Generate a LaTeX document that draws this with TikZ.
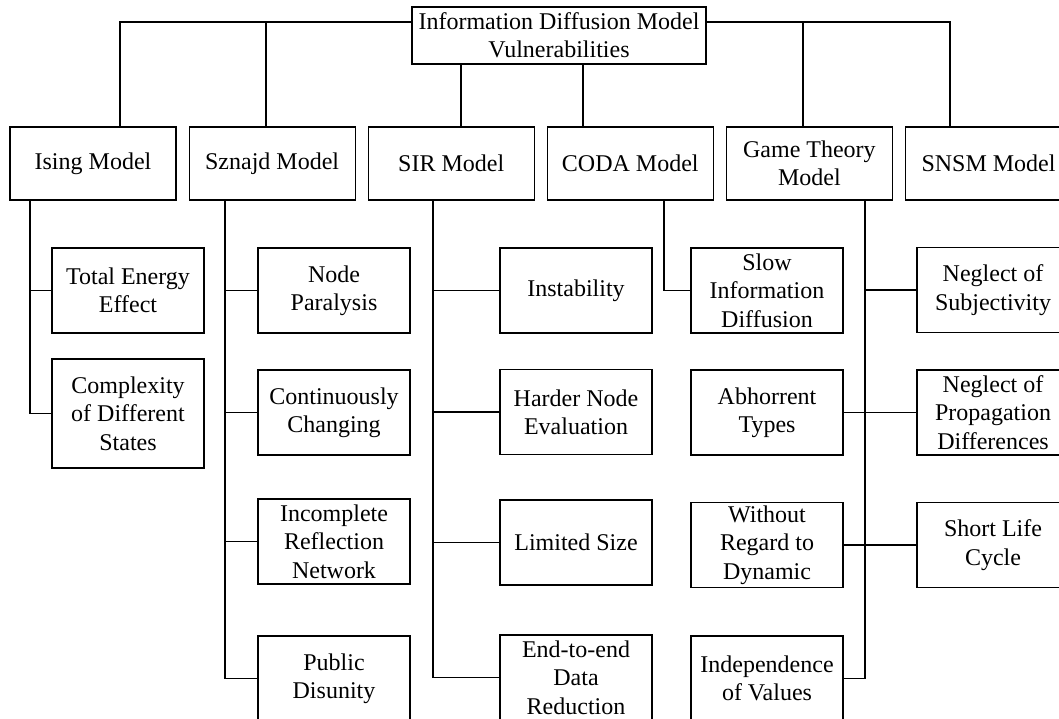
\documentclass[tikz,border=0pt]{standalone}
\usepackage{fontspec}
\setmainfont{Liberation Serif}
\usetikzlibrary{positioning,calc}

\begin{document}
\begin{tikzpicture}[
    x=1pt, y=-1pt,
    every node/.style={font=\fontsize{24}{28.3}\selectfont, align=center},
    box/.style={draw, line width=1.1pt, inner sep=2pt},
    rootbox/.style={box, minimum width=294pt, minimum height=57pt},
    modelbox/.style={box, minimum width=166pt, minimum height=73pt},
    issuebox/.style={box, minimum width=152pt, minimum height=85pt},
    link/.style={line width=1.1pt}
]
\clip (0,0) rectangle (1059,719);

% Root
\node[rootbox] (root) at (559,35.5) {Information Diffusion Model\\Vulnerabilities};

% Models
\node[modelbox] (ising) at (93,163.5) {Ising Model};
\node[modelbox, right=12pt of ising] (sznajd) {Sznajd Model};
\node[modelbox, right=12pt of sznajd] (sir) {SIR Model};
\node[modelbox, right=12pt of sir] (coda) {CODA Model};
\node[modelbox, right=12pt of coda] (game) {Game Theory\\Model};
\node[modelbox, right=12pt of game] (snsm) {SNSM Model};

% Vulnerabilities
\node[issuebox] (energy) at (128,290.5) {Total Energy\\Effect};
\node[issuebox, minimum height=109pt] (complex) at (128,413.5) {Complexity\\of Different\\States};

\node[issuebox] (paralysis) at (334,290.5) {Node\\Paralysis};
\node[issuebox] (changing) at (334,412.5) {Continuously\\Changing};
\node[issuebox] (incomplete) at (334,541.5) {Incomplete\\Reflection\\Network};
\node[issuebox] (disunity) at (334,678.5) {Public\\Disunity};

\node[issuebox] (instab) at (576,290.5) {Instability};
\node[issuebox] (harder) at (576,412) {Harder Node\\Evaluation};
\node[issuebox] (limited) at (576,542.5) {Limited Size};
\node[issuebox] (reduction) at (576,677.5) {End-to-end\\Data\\Reduction};

\node[issuebox] (slowinfo) at (767,290.5) {Slow\\Information\\Diffusion};
\node[issuebox] (abhor) at (767,412.5) {Abhorrent\\Types};
\node[issuebox] (without) at (767,545) {Without\\Regard to\\Dynamic};
\node[issuebox] (indep) at (767,678.5) {Independence\\of Values};

\node[issuebox] (subj) at (993,290) {Neglect of\\Subjectivity};
\node[issuebox] (propag) at (993,412.5) {Neglect of\\Propagation\\Differences};
\node[issuebox] (shortlife) at (993,545) {Short Life\\Cycle};

% Root to models
\coordinate (bus) at (0,22);
\coordinate (isingD) at (120,0);
\coordinate (sznajdD) at (266,0);
\coordinate (sirD) at (461,0);
\coordinate (codaD) at (583,0);
\coordinate (gameD) at (803,0);
\coordinate (snsmD) at (950,0);

\draw[link] (root.west |- bus) -| (ising.north -| isingD);
\draw[link] (sznajdD |- bus) -- (sznajd.north -| sznajdD);
\draw[link] (root.east |- bus) -| (snsm.north -| snsmD);
\draw[link] (gameD |- bus) -- (game.north -| gameD);
\draw[link] (root.south -| sirD) -- (sir.north -| sirD);
\draw[link] (root.south -| codaD) -- (coda.north -| codaD);

% Trunks
\foreach \m/\t in {ising/30, sznajd/225, sir/433, coda/664, game/865}
  \coordinate (\m T) at (\t,0);

\draw[link] (ising.south -| isingT) |- (complex.west);
\draw[link] (isingT |- energy.west) -- (energy.west);

\draw[link] (sznajd.south -| sznajdT) |- (disunity.west);
\foreach \c in {paralysis, changing, incomplete}
  \draw[link] (sznajdT |- \c.west) -- (\c.west);

\draw[link] (sir.south -| sirT) |- (reduction.west);
\foreach \c in {instab, harder, limited}
  \draw[link] (sirT |- \c.west) -- (\c.west);

\draw[link] (coda.south -| codaT) |- (slowinfo.west);

\draw[link] (game.south -| gameT) |- (indep.east);
\draw[link] (gameT |- subj.west) -- (subj.west);
\draw[link] (abhor.east) -- (propag.west);
\draw[link] (without.east) -- (shortlife.west);

\end{tikzpicture}
\end{document}
